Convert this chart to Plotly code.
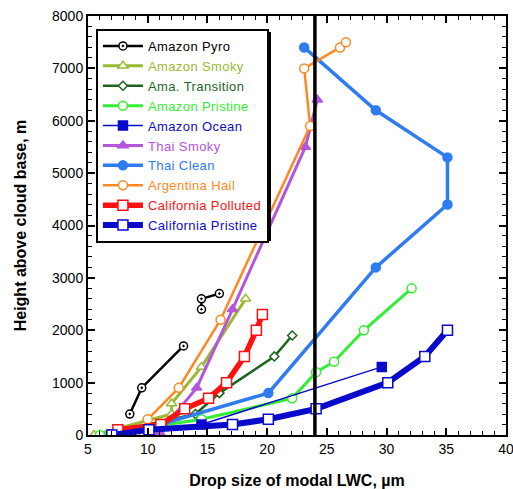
import plotly.graph_objects as go

# ---- data ----
pyro_x = [8.5, 9.5, 13.0, None, 14.5, 14.5, 16.0]
pyro_y = [400, 900, 1700, None, 2400, 2600, 2700]

smoky_x = [5.5, 12.0, 12.0, 14.5, 18.2]
smoky_y = [0, 400, 600, 1300, 2600]

trans_x = [6.0, 14.0, 16.0, 20.6, 22.1]
trans_y = [0, 400, 800, 1500, 1900]

pristine_x = [6.0, 14.5, 22.1, 24.1, 25.6, 28.1, 32.1]
pristine_y = [0, 300, 700, 1200, 1400, 2000, 2800]

ocean_x = [7.0, 14.5, 29.6]
ocean_y = [0, 200, 1300]

thai_smoky_x = [11.0, 14.1, 17.1, 23.2, 24.2]
thai_smoky_y = [50, 900, 2400, 5500, 6400]

thai_clean_x = [8.0, 20.1, 29.1, 35.1, 35.1, 29.1, 23.1]
thai_clean_y = [0, 800, 3200, 4400, 5300, 6200, 7400]

arg_x = [9.7, 10.0, 12.6, 16.1, 23.6, 23.1, 26.1, 26.6]
arg_y = [0, 300, 900, 2200, 5900, 7000, 7400, 7500]

cal_pol_x = [7.5, 11.1, 13.1, 15.1, 16.6, 18.1, 19.1, 19.6]
cal_pol_y = [100, 200, 500, 700, 1000, 1500, 2000, 2300]

cal_pri_x = [7.0, 10.1, 17.1, 20.1, 24.1, 30.1, 33.2, 35.1]
cal_pri_y = [0, 100, 200, 300, 500, 1000, 1500, 2000]

ref_line_x = 24
x_ticks = [5, 10, 15, 20, 25, 30, 35, 40]
y_ticks = [0, 1000, 2000, 3000, 4000, 5000, 6000, 7000, 8000]

series = [
    ("Amazon Pyro", pyro_x, pyro_y, "#000000", 2.5, "circle-dot", 8, "white"),
    ("Amazon Smoky", smoky_x, smoky_y, "#99bb33", 3, "triangle-up", 9, "white"),
    ("Ama. Transition", trans_x, trans_y, "#1a661f", 2.5, "diamond", 7, "white"),
    ("Amazon Pristine", pristine_x, pristine_y, "#33ee33", 3, "circle", 9, "white"),
    ("Amazon Ocean", ocean_x, ocean_y, "#0a0acc", 1.5, "square", 9, "#0a0acc"),
    ("Thai Smoky", thai_smoky_x, thai_smoky_y, "#b455dd", 3, "triangle-up", 9, "#b455dd"),
    ("Thai Clean", thai_clean_x, thai_clean_y, "#2e7bf2", 3.5, "circle", 9, "#2e7bf2"),
    ("Argentina Hail", arg_x, arg_y, "#ff8822", 2.5, "circle", 9, "white"),
    ("California Polluted", cal_pol_x, cal_pol_y, "#ff1111", 5.5, "square", 10, "white"),
    ("California Pristine", cal_pri_x, cal_pri_y, "#0a0acc", 6, "square", 10, "white"),
]

fig = go.Figure()

for name, xs, ys, col, lw, sym, ms, fill in series:
    fig.add_trace(go.Scatter(
        x=xs, y=ys, mode="lines+markers",
        name=f'<span style="color:{col};letter-spacing:0.4px">{name}</span>',
        line=dict(color=col, width=lw),
        marker=dict(symbol=sym, size=ms, color=fill,
                    line=dict(color=col, width=1.5)),
        connectgaps=False,
    ))

fig.add_shape(type="line", x0=ref_line_x, x1=ref_line_x, y0=0, y1=8000,
              xref="x", yref="y", line=dict(color="black", width=3.5), layer="above")

# legend shadow
fig.add_shape(type="rect", xref="paper", yref="paper",
              x0=0.0263, x1=0.4378, y0=0.463, y1=0.962,
              fillcolor="black", line=dict(width=0), layer="above")

axis_common = dict(
    showline=True, linecolor="black", linewidth=2, mirror="ticks",
    ticks="inside", ticklen=7, tickwidth=1.5, tickcolor="black",
    showgrid=False, zeroline=False, automargin=False,
    ticklabeloverflow="allow",
    tickfont=dict(family="Liberation Sans, Arial", size=14, color="black"),
)

fig.update_xaxes(range=[5, 40], tickvals=x_ticks,
                 minor=dict(ticks="inside", ticklen=4, dtick=1, tickcolor="black", tickwidth=1),
                 title=dict(text="<b>Drop size of modal LWC, µm</b>", standoff=19,
                            font=dict(family="Liberation Sans, Arial", size=16, color="black")),
                 **axis_common)
fig.update_yaxes(range=[0, 8000], tickvals=y_ticks,
                 minor=dict(ticks="inside", ticklen=4, dtick=200, tickcolor="black", tickwidth=1),
                 title=dict(text="<b>Height above cloud base, m</b>", standoff=21,
                            font=dict(family="Liberation Sans, Arial", size=16, color="black")),
                 **axis_common)

fig.update_layout(
    width=513, height=489,
    margin=dict(l=88, r=7, t=16, b=54),
    plot_bgcolor="white", paper_bgcolor="white",
    showlegend=True,
    legend=dict(x=0.019, y=0.969, xanchor="left", yanchor="top",
                bgcolor="white", bordercolor="black", borderwidth=2,
                font=dict(family="Liberation Sans, Arial", size=13, color="black"),
                tracegroupgap=0, itemwidth=40),
)

css = ("var s=document.createElement('style');"
       "s.textContent='html,body{margin:0;padding:0;overflow:hidden;width:513px;height:489px}';"
       "document.head.appendChild(s);")
fig.write_html("out.html", config={"displayModeBar": False}, post_script=css)
